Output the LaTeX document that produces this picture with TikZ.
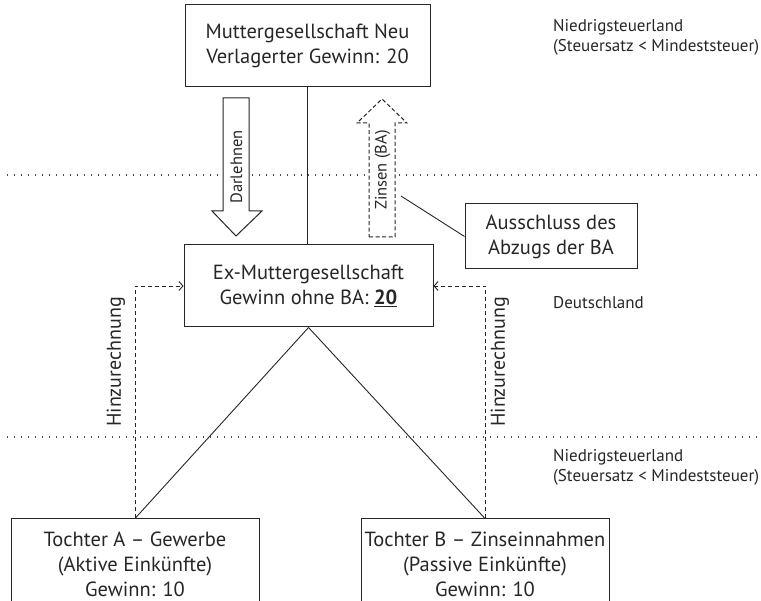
\documentclass[tikz,border=0pt]{standalone}
\usepackage{fontspec}
\setmainfont{PT Sans}
\usetikzlibrary{arrows.meta}
\begin{document}
\begin{tikzpicture}[x=1pt,y=-1pt,
  box/.style={draw=black!85, line width=1pt, align=center, inner sep=0pt,
    font=\fontsize{20.5}{25}\selectfont, text=black!85},
  blockarrow/.style={draw=black!85, line width=1pt, fill=white, line join=miter},
  arrlabel/.style={rotate=90, font=\fontsize{16.5}{18}\selectfont, text=black!85},
  hinz/.style={rotate=90, font=\fontsize{20}{22}\selectfont, text=black!85},
  side/.style={anchor=west, align=left, inner sep=0pt, font=\fontsize{17}{20}\selectfont, text=black!85},
  conn/.style={draw=black!85, line width=0.9pt},
  dashconn/.style={draw=black!85, line width=0.9pt, dash pattern=on 4pt off 3pt,
    -{Straight Barb[length=4pt,width=9pt,line width=0.9pt]}},
  sepline/.style={draw=black!70, line width=1.2pt, dash pattern=on 1.2pt off 5.8pt}
]
\useasboundingbox (0,0) rectangle (761,601);

% separators
\draw[sepline] (7,175) -- (761,175);
\draw[sepline] (7,437) -- (761,437);

% boxes
\node[box, minimum width=245pt, minimum height=82pt] (mn) at (307.5,46)
  {Muttergesellschaft Neu\\Verlagerter Gewinn: 20};
\node[box, minimum width=249pt, minimum height=82pt] (ex) at (308.5,286)
  {Ex-Muttergesellschaft\\Gewinn ohne BA: \underline{\textbf{20}}};
\node[box, minimum width=172pt, minimum height=65pt] (aus) at (551,236.5)
  {Ausschluss des\\Abzugs der BA};
\node[box, minimum width=248pt, minimum height=90pt] (ta) at (135,564)
  {Tochter A -- Gewerbe\\(Aktive Einkünfte)\\Gewinn: 10};
\node[box, minimum width=248pt, minimum height=90pt] (tb) at (485,564)
  {Tochter B -- Zinseinnahmen\\(Passive Einkünfte)\\Gewinn: 10};

% connectors
\draw[conn] (mn.south) -- (mn.south |- ex.north);
\draw[conn] (ex.south) -- (ta.north);
\draw[conn] (ex.south) -- (tb.north);

% Darlehnen block arrow
\draw[blockarrow] (223,98) -- (249,98) -- (249,211) -- (262,211) -- (236,236)
  -- (212,211) -- (223,211) -- cycle;
\node[arrlabel] (darl) at (236.5,167) {Darlehnen};

% Zinsen dashed block arrow
\draw[blockarrow, dash pattern=on 4pt off 2.5pt] (369,237) -- (395,237) -- (395,123)
  -- (407,123) -- (382,99) -- (357,123) -- (369,123) -- cycle;
\node[arrlabel] (zins) at (382.5,170) {Zinsen (BA)};

% pointer to Ausschluss
\coordinate (zp) at (401,196);
\draw[conn] (zp) -- (aus.west);

% Hinzurechnung
\draw[dashconn] (ta.north) |- (ex.west);
\draw[dashconn] (tb.north) |- (ex.east);
\node[hinz] (hl) at (116,362) {Hinzurechnung};
\node[hinz] (hr) at (500,362) {Hinzurechnung};

% side labels
\node[side] (nl1) at (553,37) {Niedrigsteuerland\\(Steuersatz < Mindeststeuer)};
\node[side] (de) at (553,303) {Deutschland};
\node[side] (nl2) at (553,467) {Niedrigsteuerland\\(Steuersatz < Mindeststeuer)};
\end{tikzpicture}
\end{document}
